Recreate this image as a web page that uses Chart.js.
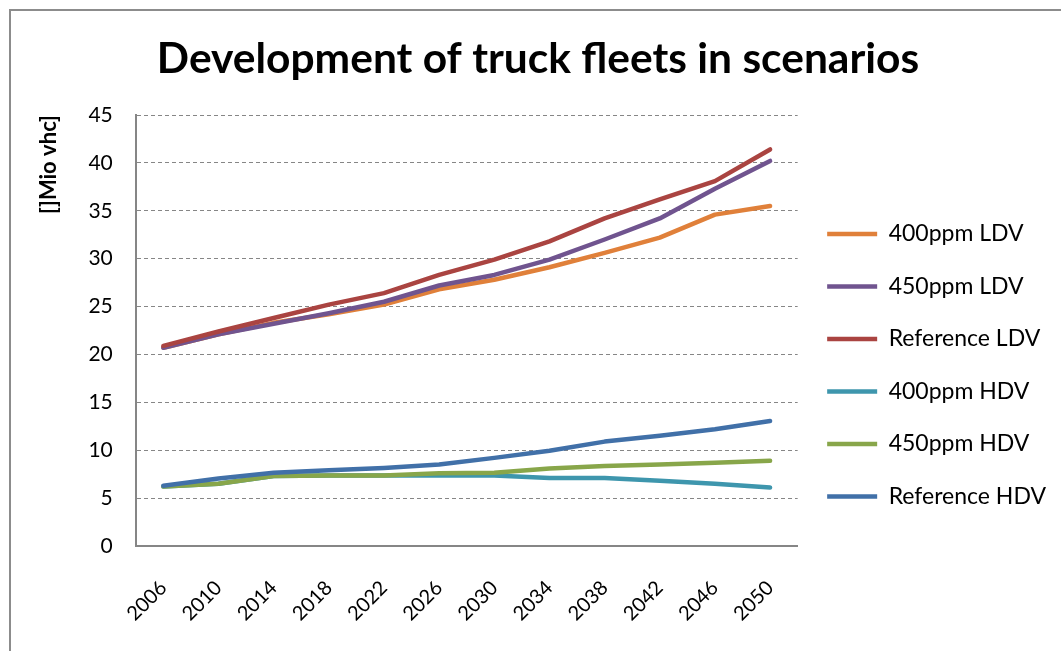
<!DOCTYPE html>
<html>
<head>
<meta charset="utf-8">
<script src="https://cdn.jsdelivr.net/npm/chart.js@4.4.0/dist/chart.umd.min.js"></script>
<style>
    html, body { margin: 0; padding: 0; background: #fff; overflow: hidden; }
    #wrap { position: relative; width: 1061px; height: 651px; }
    #frame {
        position: absolute; left: 9px; top: 9px;
        width: 1200px; height: 800px;
        border: 2px solid #8c8c8c;
        pointer-events: none;
    }
</style>
</head>
<body>
<div id="wrap">
    <canvas id="fleetChart" width="1061" height="651"></canvas>
    <div id="frame"></div>
</div>
<script>
// Data (million vehicles)
const years = ['2006', '2010', '2014', '2018', '2022', '2026', '2030', '2034', '2038', '2042', '2046', '2050'];

const ldv400 = [20.7, 22.1, 23.3, 24.2, 25.2, 26.8, 27.8, 29.1, 30.6, 32.2, 34.6, 35.5];
const ldv450 = [20.7, 22.1, 23.2, 24.3, 25.5, 27.2, 28.3, 29.9, 32.0, 34.2, 37.3, 40.2];
const ldvRef = [20.9, 22.4, 23.8, 25.2, 26.4, 28.3, 29.9, 31.8, 34.2, 36.2, 38.1, 41.4];
const hdv400 = [6.2, 6.5, 7.3, 7.35, 7.35, 7.35, 7.35, 7.1, 7.1, 6.8, 6.5, 6.1];
const hdv450 = [6.2, 6.5, 7.3, 7.35, 7.35, 7.6, 7.65, 8.1, 8.35, 8.5, 8.7, 8.9];
const hdvRef = [6.3, 7.05, 7.65, 7.9, 8.15, 8.5, 9.2, 9.95, 10.9, 11.5, 12.2, 13.05];

const seriesNames = ['400ppm LDV', '450ppm LDV', 'Reference LDV', '400ppm HDV', '450ppm HDV', 'Reference HDV'];
const seriesData = [ldv400, ldv450, ldvRef, hdv400, hdv450, hdvRef];
const seriesColors = ['#e0803a', '#70548f', '#aa4441', '#3e96ad', '#88a64a', '#4170a8'];

const yTicks = [0, 5, 10, 15, 20, 25, 30, 35, 40, 45];

const FONT = 'Lato, "Open Sans", sans-serif';
const AXIS_GREY = '#868686';

Chart.defaults.font.family = FONT;
Chart.defaults.color = '#000';

// Excel draws later series on top, Chart.js the other way round -> reverse via order
const datasets = seriesNames.map((name, i) => ({
    label: name,
    data: seriesData[i],
    borderColor: seriesColors[i],
    backgroundColor: seriesColors[i],
    borderWidth: 4.5,
    borderCapStyle: 'round',
    borderJoinStyle: 'round',
    pointRadius: 0,
    pointHoverRadius: 0,
    tension: 0,
    fill: false,
    order: seriesNames.length - i
}));

const ctx = document.getElementById('fleetChart').getContext('2d');

new Chart(ctx, {
    type: 'line',
    data: {
        labels: years,
        datasets: datasets
    },
    options: {
        responsive: false,
        animation: false,
        layout: {
            padding: { left: 20, right: 5, top: 0, bottom: 0 }
        },
        plugins: {
            title: {
                display: true,
                text: 'Development of truck fleets in scenarios',
                color: '#000',
                font: { family: FONT, size: 42.5, weight: 'bold' },
                padding: { top: 34, bottom: 30 }
            },
            legend: {
                position: 'right',
                align: 'center',
                // empty title only used to push the entries down like in the original
                title: {
                    display: true,
                    text: ' ',
                    font: { family: FONT, size: 12 },
                    padding: { top: 65, bottom: 0 }
                },
                labels: {
                    color: '#000',
                    font: { family: FONT, size: 23 },
                    usePointStyle: true,
                    pointStyle: 'line',
                    pointStyleWidth: 50,
                    boxHeight: 4,
                    padding: 29.5,
                    sort: (a, b) => a.datasetIndex - b.datasetIndex
                }
            },
            tooltip: { enabled: false }
        },
        scales: {
            x: {
                offset: true,
                afterFit: (scale) => {
                    scale.height = 105;
                },
                grid: {
                    display: false,
                    drawTicks: false
                },
                border: {
                    display: true,
                    color: AXIS_GREY,
                    width: 2
                },
                ticks: {
                    color: '#000',
                    font: { family: FONT, size: 20 },
                    minRotation: 45,
                    maxRotation: 45,
                    padding: 30,
                    autoSkip: false
                }
            },
            y: {
                min: 0,
                max: 45,
                afterBuildTicks: (scale) => {
                    scale.ticks = yTicks.map(v => ({ value: v }));
                },
                grid: {
                    color: AXIS_GREY,
                    lineWidth: 1,
                    drawTicks: false
                },
                border: {
                    display: true,
                    color: AXIS_GREY,
                    width: 2,
                    dash: [4, 3]
                },
                ticks: {
                    color: '#000',
                    font: { family: FONT, size: 21 },
                    padding: 23
                },
                title: {
                    display: true,
                    text: '[]Mio vhc]',
                    align: 'end',
                    color: '#000',
                    font: { family: FONT, size: 22, weight: 'bold' },
                    padding: { top: 16, bottom: 3 }
                }
            }
        }
    }
});
</script>
</body>
</html>
